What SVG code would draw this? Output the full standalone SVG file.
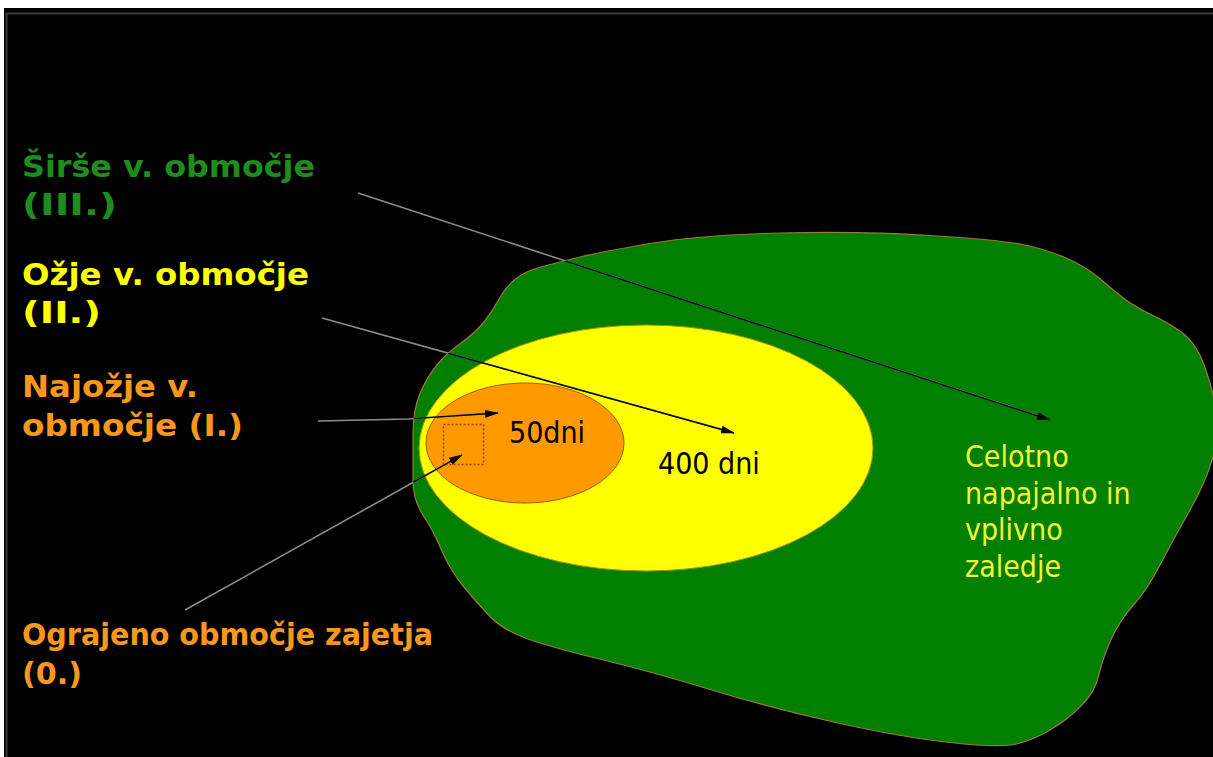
<svg xmlns="http://www.w3.org/2000/svg" width="1213" height="757" viewBox="0 0 1213 757">
<style>
.lbl{font-family:"DejaVu Sans","Verdana",sans-serif;font-weight:bold;font-size:31px}
.in{font-family:"DejaVu Sans Condensed","DejaVu Sans",sans-serif;font-size:30px}
.gray{fill:none;stroke:#8c8c8c;stroke-width:1.6}
.core{fill:none;stroke:#000;stroke-width:1.4}
</style>
<defs>
<marker id="ah" viewBox="0 0 14 8" refX="13" refY="4" markerWidth="14" markerHeight="8" markerUnits="userSpaceOnUse" orient="auto">
<path d="M0,0 L14,4 L0,8 Z" fill="#000"/>
</marker>
<path id="blob" d="M413,435 Q413,410 420,393.5 Q427,377 437,365 Q447,353 461,343 Q475,333 483.5,322.5 Q492,312 498.5,300 Q505,288 515,279.5 Q525,271 542.5,266.5 Q560,262 580,257 Q600,252 650,243.5 Q700,235 780,233 Q860,231 930,235.5 Q1000,240 1022.5,244.5 Q1045,249 1065,257.5 Q1085,266 1099,278 Q1113,290 1124,298.5 Q1135,307 1154,316 Q1173,325 1185,335 Q1197,345 1204.5,366 Q1212,387 1216,408.5 Q1220,430 1213.5,455 Q1207,480 1190,510 Q1173,540 1160,565 Q1147,590 1133.5,605 Q1120,620 1111.5,638.5 Q1103,657 1099,674.5 Q1095,692 1081,706 Q1067,720 1050,730 Q1033,740 1016.5,744 Q1000,748 950,742.5 Q900,737 833.5,722 Q767,707 710,689.5 Q653,672 601.5,659.5 Q550,647 526.5,638.5 Q503,630 490,616.5 Q477,603 463.5,586.5 Q450,570 441.5,550 Q433,530 423,515 Q413,500 413,480 Q413,460 413,435 Z"/>
<clipPath id="blobclip"><use href="#blob"/></clipPath>
</defs>
<rect x="0" y="0" width="1213" height="757" fill="#fff"/>
<rect x="4" y="8" width="1209" height="749" fill="#000"/>
<path d="M6.5,757 V13.5 H1213" fill="none" stroke="#3a3a3a" stroke-width="2"/>
<g id="zone3">
<use href="#blob" fill="#007f00" stroke="#9a7a40" stroke-width="1.2" stroke-linejoin="round"/>
<text class="in" fill="#f4f43a" x="965" y="467">Celotno</text>
<text class="in" fill="#f4f43a" x="965" y="504">napajalno in</text>
<text class="in" fill="#f4f43a" x="965" y="540">vplivno</text>
<text class="in" fill="#f4f43a" x="965" y="577">zaledje</text>
</g>
<g id="zone2">
<ellipse cx="646" cy="448" rx="227" ry="123" fill="#ffff00" stroke="#a09000" stroke-width="1"/>
<text class="in" fill="#000" x="658" y="474">400 dni</text>
</g>
<g id="zone1">
<ellipse cx="525" cy="443" rx="99" ry="60" fill="#ff9900" stroke="#a05a00" stroke-width="1"/>
<text class="in" fill="#000" x="509" y="443">50dni</text>
</g>
<g id="zone0">
<rect x="443.5" y="424.5" width="40" height="40" fill="none" stroke="#a04000" stroke-width="1.5" stroke-dasharray="2,2"/>
</g>
<g id="labels">
<text class="lbl" fill="#1e8c1e" x="22" y="177" textLength="293" lengthAdjust="spacingAndGlyphs">Širše v. območje</text>
<text class="lbl" fill="#1e8c1e" x="22" y="215" textLength="95" lengthAdjust="spacingAndGlyphs">(III.)</text>
<text class="lbl" fill="#ffff00" x="22" y="285" textLength="287" lengthAdjust="spacingAndGlyphs">Ožje v. območje</text>
<text class="lbl" fill="#ffff00" x="22" y="323" textLength="79" lengthAdjust="spacingAndGlyphs">(II.)</text>
<text class="lbl" fill="#f7981d" x="22" y="397" textLength="176" lengthAdjust="spacingAndGlyphs">Najožje v.</text>
<text class="lbl" fill="#f7981d" x="22" y="436" textLength="221" lengthAdjust="spacingAndGlyphs">območje (I.)</text>
<text class="lbl" fill="#f7981d" x="22" y="645" textLength="411" lengthAdjust="spacingAndGlyphs">Ograjeno območje zajetja</text>
<text class="lbl" fill="#f7981d" x="22" y="684" textLength="60" lengthAdjust="spacingAndGlyphs">(0.)</text>
</g>
<g id="connectors">
<path class="gray" d="M358,193 L1045,418"/>
<path class="gray" d="M322,318 L728,431"/>
<path class="gray" d="M318,421 L408,419 L490,413"/>
<path class="gray" d="M185,610 L455,459"/>
<g clip-path="url(#blobclip)">
<path class="core" d="M358,193 L1050,420" marker-end="url(#ah)"/>
<path class="core" d="M322,318 L734,433" marker-end="url(#ah)"/>
<path class="core" d="M318,421 L408,419 L498,413" marker-end="url(#ah)"/>
<path class="core" d="M185,610 L462,455" marker-end="url(#ah)"/>
</g>
</g>
</svg>
